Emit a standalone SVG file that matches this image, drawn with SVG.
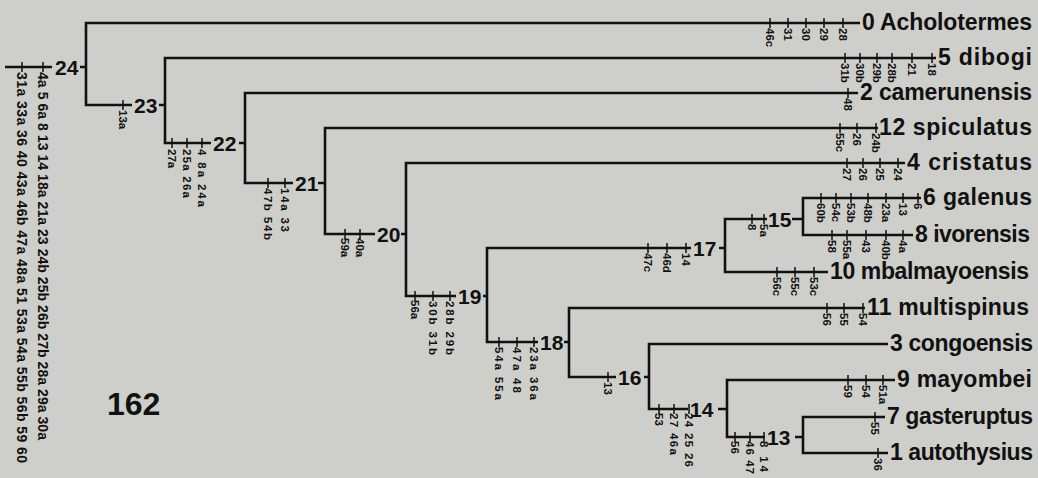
<svg xmlns="http://www.w3.org/2000/svg" width="1038" height="478" viewBox="0 0 1038 478">
<style>
.br{fill:none;stroke:#111;stroke-width:2.6}
.tk{fill:none;stroke:#111;stroke-width:1.5}
.nl{font-family:"Liberation Sans",Arial,sans-serif;font-weight:bold;font-size:21px;fill:#111}
.tx{font-family:"Liberation Sans",Arial,sans-serif;font-weight:bold;font-size:23px;fill:#111}
.c{font-family:"Liberation Sans",Arial,sans-serif;font-weight:bold;font-size:11.5px;fill:#111}
.cl{font-family:"Liberation Sans",Arial,sans-serif;font-weight:bold;font-size:14px;fill:#111}
</style>
<rect width="1038" height="478" fill="#cececa"/>
<g id="connectors">
<path class="br" d="M5 67 H52 M80 67 H86"/>
<path class="br" d="M860 23 H86 V105 H132 M159 105 H165"/>
<path class="br" d="M936 58 H165 V143 H211 M239 143 H245"/>
<path class="br" d="M858 93 H245 V183 H293 M318 183 H325"/>
<path class="br" d="M878 128 H325 V234 H375 M401 234 H406"/>
<path class="br" d="M905 163 H406 V296 H456 M483 296 H487"/>
<path class="br" d="M691 248 H487 V342 H538 M719 248 H725 M564 342 H569"/>
<path class="br" d="M767 219 H725 V272 H828 M792 219 H803"/>
<path class="br" d="M921 198 H803 V235 H913"/>
<path class="br" d="M865 308 H569 V377 H616 M644 377 H649"/>
<path class="br" d="M888 344 H649 V409 H688 M718 409 H727"/>
<path class="br" d="M895 380 H727 V437 H765 M795 437 H803"/>
<path class="br" d="M885 417 H803 V453 H888"/>
<path class="tk" d="M22 62V72 M43 62V72 M123 100V110 M172 138V148 M187 138V148 M202 138V148 M268 178V188 M285 178V188 M345 229V239 M360 229V239 M415 291V301 M433 291V301 M450 291V301 M499 337V347 M517 337V347 M534 337V347 M608 372V382 M648 243V253 M667 243V253 M686 243V253 M752 214V224 M764 214V224 M659 404V414 M674 404V414 M689 404V414 M735 432V442 M750 432V442 M764 432V442"/>
<path class="tk" d="M770 18V28 M788 18V28 M806 18V28 M824 18V28 M843 18V28 M845 53V63 M860 53V63 M877 53V63 M892 53V63 M912 53V63 M932 53V63 M848 88V98 M840 123V133 M857 123V133 M876 123V133 M847 158V168 M863 158V168 M880 158V168 M898 158V168 M821 193V203 M836 193V203 M851 193V203 M868 193V203 M886 193V203 M903 193V203 M918 193V203 M832 230V240 M847 230V240 M866 230V240 M886 230V240 M903 230V240 M777 267V277 M795 267V277 M814 267V277 M827 303V313 M844 303V313 M863 303V313 M848 375V385 M866 375V385 M883 375V385 M875 412V422 M878 448V458"/>
<g id="character-labels">
<text class="cl" transform="translate(17,72) rotate(90)" textLength="391">31a 33a 36 40 43a 46b 47a 48a 51 53a 54a 55b 56b 59 60</text>
<text class="cl" transform="translate(38,72) rotate(90)" textLength="368">4a 5 6a 8 13 14 18a 21a 23 24b 25b 26b 27b 28a 29a 30a</text>
<text class="c" transform="translate(119,110) rotate(90)">13a</text>
<text class="c" transform="translate(168,149) rotate(90)">27a</text>
<text class="c" transform="translate(183,149) rotate(90)" textLength="49">25a 26a</text>
<text class="c" transform="translate(198,149) rotate(90)" textLength="58">4 8a 24a</text>
<text class="c" transform="translate(264,188) rotate(90)" textLength="52">47b 54b</text>
<text class="c" transform="translate(281,188) rotate(90)" textLength="44">14a 33</text>
<text class="c" transform="translate(341,238) rotate(90)">59a</text>
<text class="c" transform="translate(356,238) rotate(90)">40a</text>
<text class="c" transform="translate(411,300) rotate(90)">56a</text>
<text class="c" transform="translate(429,301) rotate(90)" textLength="54">30b 31b</text>
<text class="c" transform="translate(446,301) rotate(90)" textLength="54">28b 29b</text>
<text class="c" transform="translate(495,347) rotate(90)" textLength="53">54a 55a</text>
<text class="c" transform="translate(513,347) rotate(90)" textLength="46">47a 48</text>
<text class="c" transform="translate(530,347) rotate(90)" textLength="53">23a 36a</text>
<text class="c" transform="translate(604,382) rotate(90)">13</text>
<text class="c" transform="translate(644,253) rotate(90)">47c</text>
<text class="c" transform="translate(663,253) rotate(90)">46d</text>
<text class="c" transform="translate(682,253) rotate(90)">14</text>
<text class="c" transform="translate(748,224) rotate(90)">8</text>
<text class="c" transform="translate(760,224) rotate(90)">5a</text>
<text class="c" transform="translate(655,413) rotate(90)">53</text>
<text class="c" transform="translate(670,413) rotate(90)" textLength="42">27 46a</text>
<text class="c" transform="translate(685,413) rotate(90)" textLength="54">24 25 26</text>
<text class="c" transform="translate(731,441) rotate(90)">56</text>
<text class="c" transform="translate(746,441) rotate(90)" textLength="33">46 47</text>
<text class="c" transform="translate(760,441) rotate(90)" textLength="31">8 14</text>
<text class="c" transform="translate(766,28) rotate(90)">46c</text>
<text class="c" transform="translate(784,28) rotate(90)">31</text>
<text class="c" transform="translate(802,28) rotate(90)">30</text>
<text class="c" transform="translate(820,28) rotate(90)">29</text>
<text class="c" transform="translate(839,28) rotate(90)">28</text>
<text class="c" transform="translate(841,63) rotate(90)">31b</text>
<text class="c" transform="translate(856,63) rotate(90)">30b</text>
<text class="c" transform="translate(873,63) rotate(90)">29b</text>
<text class="c" transform="translate(888,63) rotate(90)">28b</text>
<text class="c" transform="translate(908,63) rotate(90)">21</text>
<text class="c" transform="translate(928,63) rotate(90)">18</text>
<text class="c" transform="translate(844,98) rotate(90)">48</text>
<text class="c" transform="translate(836,133) rotate(90)">55c</text>
<text class="c" transform="translate(853,133) rotate(90)">26</text>
<text class="c" transform="translate(872,133) rotate(90)">24b</text>
<text class="c" transform="translate(843,168) rotate(90)">27</text>
<text class="c" transform="translate(859,168) rotate(90)">26</text>
<text class="c" transform="translate(876,168) rotate(90)">25</text>
<text class="c" transform="translate(894,168) rotate(90)">24</text>
<text class="c" transform="translate(817,203) rotate(90)">60b</text>
<text class="c" transform="translate(832,203) rotate(90)">54c</text>
<text class="c" transform="translate(847,203) rotate(90)">53b</text>
<text class="c" transform="translate(864,203) rotate(90)">48b</text>
<text class="c" transform="translate(882,203) rotate(90)">23a</text>
<text class="c" transform="translate(899,203) rotate(90)">13</text>
<text class="c" transform="translate(914,203) rotate(90)">6</text>
<text class="c" transform="translate(828,240) rotate(90)">58</text>
<text class="c" transform="translate(843,240) rotate(90)">55a</text>
<text class="c" transform="translate(862,240) rotate(90)">43</text>
<text class="c" transform="translate(882,240) rotate(90)">40b</text>
<text class="c" transform="translate(899,240) rotate(90)">4a</text>
<text class="c" transform="translate(773,277) rotate(90)">56c</text>
<text class="c" transform="translate(791,277) rotate(90)">55c</text>
<text class="c" transform="translate(810,277) rotate(90)">53c</text>
<text class="c" transform="translate(823,313) rotate(90)">56</text>
<text class="c" transform="translate(840,313) rotate(90)">55</text>
<text class="c" transform="translate(859,313) rotate(90)">54</text>
<text class="c" transform="translate(844,385) rotate(90)">59</text>
<text class="c" transform="translate(862,385) rotate(90)">54</text>
<text class="c" transform="translate(879,385) rotate(90)">51a</text>
<text class="c" transform="translate(871,422) rotate(90)">55</text>
<text class="c" transform="translate(874,458) rotate(90)">36</text>
</g>
</g>
<g id="node-24"><text class="nl" x="55" y="75">24</text></g>
<g id="node-23"><text class="nl" x="134" y="113">23</text></g>
<g id="node-22"><text class="nl" x="213" y="151">22</text></g>
<g id="node-21"><text class="nl" x="295" y="191">21</text></g>
<g id="node-20"><text class="nl" x="377" y="242">20</text></g>
<g id="node-19"><text class="nl" x="458" y="304">19</text></g>
<g id="node-18"><text class="nl" x="540" y="350">18</text></g>
<g id="node-17"><text class="nl" x="693" y="256">17</text></g>
<g id="node-16"><text class="nl" x="618" y="385">16</text></g>
<g id="node-15"><text class="nl" x="768" y="227">15</text></g>
<g id="node-14"><text class="nl" x="690" y="417">14</text></g>
<g id="node-13"><text class="nl" x="767" y="445">13</text></g>
<g id="taxon-0"><text class="tx" x="862" y="30" textLength="170">0 Acholotermes</text></g>
<g id="taxon-5"><text class="tx" x="938" y="65" textLength="94">5 dibogi</text></g>
<g id="taxon-2"><text class="tx" x="860" y="100" textLength="172">2 camerunensis</text></g>
<g id="taxon-12"><text class="tx" x="879" y="135" textLength="153">12 spiculatus</text></g>
<g id="taxon-4"><text class="tx" x="907" y="170" textLength="125">4 cristatus</text></g>
<g id="taxon-6"><text class="tx" x="923" y="205" textLength="109">6 galenus</text></g>
<g id="taxon-8"><text class="tx" x="915" y="242" textLength="115">8 ivorensis</text></g>
<g id="taxon-10"><text class="tx" x="830" y="279" textLength="199">10 mbalmayoensis</text></g>
<g id="taxon-11"><text class="tx" x="867" y="315" textLength="162">11 multispinus</text></g>
<g id="taxon-3"><text class="tx" x="890" y="351" textLength="143">3 congoensis</text></g>
<g id="taxon-9"><text class="tx" x="897" y="387" textLength="135">9 mayombei</text></g>
<g id="taxon-7"><text class="tx" x="887" y="424" textLength="146">7 gasteruptus</text></g>
<g id="taxon-1"><text class="tx" x="890" y="460" textLength="143">1 autothysius</text></g>
<g id="label-162"><text x="107" y="415" style="font-family:'Liberation Sans',Arial,sans-serif;font-weight:bold;font-size:32px;fill:#111">162</text></g>
</svg>
